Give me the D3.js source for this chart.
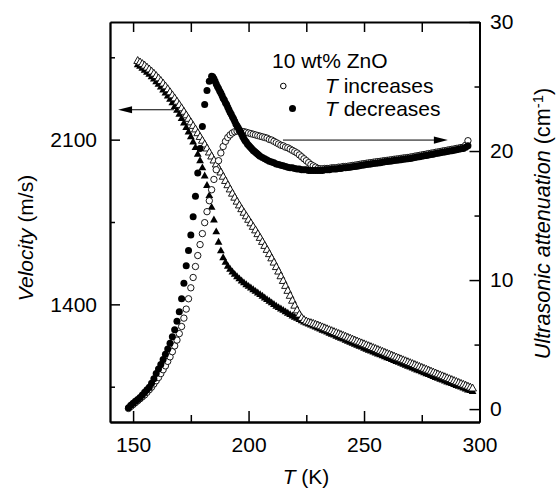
<!DOCTYPE html>
<html><head><meta charset="utf-8">
<script src="https://cdn.jsdelivr.net/npm/d3@7"></script>
<style>
body{margin:0;background:#fff}
svg{display:block;background:#fff}
text{font-family:"Liberation Sans",Arial,Helvetica,sans-serif;fill:#000}
</style>
</head><body>
<svg id="chart" width="556" height="492"></svg>
<script>
// ---- data ----
// attenuation, T increases: temperatures (K) and values (cm^-1), open circles
const tempAInc = [148,149,150,151,152,153,154,155,156,157,
158,159,160,161,162,163,164,165,166,167,
168,169,170,171,172,173,174,175,176,177,
178,179,180,181,182,183,184,185,186,187,
188,189,190,191,192,193,194,195,196,197,
198,199,200,201,202,203,204,205,206,207,
208,209,210,211,212,213,214,215,216,217,
218,219,220,221,222,223,224,225,226,227,
228,229,230,231,232,233,234,235,236,237,
238,239,240,241,242,243,244,245,246,247,
248,249,250,251,252,253,254,255,256,257,
258,259,260,261,262,263,264,265,266,267,
268,269,270,271,272,273,274,275,276,277,
278,279,280,281,282,283,284,285,286,287,
288,289,290,291,292,293,294,295];
const attInc = [0.05,0.2,0.35,0.5,0.65,0.8,0.95,1.1,1.3,1.5,
1.7,1.95,2.2,2.45,2.75,3.05,3.35,3.7,4.05,4.45,
4.9,5.35,5.85,6.4,7.05,7.75,8.55,9.4,10.2,11.05,
11.9,12.75,13.6,14.45,15.3,16.15,17.0,17.8,18.55,19.25,
19.85,20.35,20.75,21.05,21.25,21.4,21.5,21.55,21.55,21.5,
21.5,21.45,21.4,21.35,21.3,21.25,21.2,21.15,21.1,21.05,
21.0,20.9,20.85,20.75,20.65,20.55,20.45,20.4,20.3,20.25,
20.15,20.05,19.95,19.85,19.7,19.55,19.4,19.25,19.1,18.95,
18.85,18.75,18.65,18.62,18.62,18.65,18.65,18.65,18.7,18.7,
18.7,18.75,18.75,18.8,18.8,18.82,18.85,18.88,18.9,18.93,
18.96,19.0,19.02,19.05,19.08,19.1,19.13,19.16,19.18,19.2,
19.23,19.26,19.28,19.3,19.33,19.36,19.38,19.4,19.43,19.46,
19.48,19.5,19.53,19.56,19.6,19.63,19.66,19.7,19.73,19.76,
19.8,19.83,19.86,19.9,19.93,19.96,20.0,20.03,20.06,20.1,
20.13,20.16,20.2,20.23,20.27,20.3,20.45,20.8];

// attenuation, T decreases: temperatures (K) and values (cm^-1), filled circles
const tempADec = [148,149,150,151,152,153,154,155,156,157,
158,159,160,161,162,163,164,165,166,167,
168,169,170,171,172,173,174,175,176,177,
178,179,180,181,182,183,184,184.5,185,185.5,
186,186.5,187,187.5,188,188.5,189,189.5,190,190.5,
191,191.5,192,192.5,193,193.5,194,194.5,195,195.5,
196,196.5,197,197.5,198,198.5,199,199.5,200,200.5,
201,201.5,202,202.5,203,203.5,204,204.5,205,206,
207,208,209,210,211,212,213,214,215,216,
217,218,219,220,221,222,223,224,225,226,
227,228,229,230,231,232,233,234,235,236,
237,238,239,240,241,242,243,244,245,246,
247,248,249,250,251,252,253,254,255,256,
257,258,259,260,261,262,263,264,265,266,
267,268,269,270,271,272,273,274,275,276,
277,278,279,280,281,282,283,284,285,286,
287,288,289,290,291,292,293,294,295];
const attDec = [0.1,0.3,0.45,0.6,0.75,0.9,1.1,1.3,1.5,1.7,
2.0,2.35,2.75,3.1,3.45,3.85,4.25,4.65,5.1,5.6,
6.15,6.8,7.55,8.55,9.75,11.1,12.3,13.5,14.9,16.5,
18.3,20.2,21.9,23.6,24.7,25.4,25.8,25.75,25.6,25.4,
25.2,25.0,24.85,24.65,24.5,24.3,24.1,23.95,23.75,23.6,
23.4,23.2,23.0,22.85,22.65,22.5,22.3,22.1,21.95,21.8,
21.65,21.5,21.3,21.1,20.95,20.8,20.7,20.55,20.45,20.35,
20.25,20.15,20.05,19.98,19.9,19.82,19.75,19.68,19.6,19.5,
19.4,19.3,19.2,19.15,19.1,19.0,18.95,18.9,18.85,18.8,
18.75,18.7,18.7,18.65,18.6,18.6,18.55,18.55,18.55,18.5,
18.5,18.5,18.5,18.5,18.5,18.5,18.55,18.55,18.55,18.6,
18.6,18.6,18.65,18.65,18.7,18.7,18.72,18.75,18.78,18.8,
18.83,18.86,18.9,18.92,18.95,18.98,19.0,19.03,19.06,19.08,
19.1,19.13,19.16,19.18,19.2,19.23,19.26,19.28,19.3,19.33,
19.36,19.38,19.4,19.43,19.46,19.5,19.53,19.56,19.6,19.63,
19.66,19.7,19.73,19.76,19.8,19.83,19.86,19.9,19.93,19.96,
20.0,20.03,20.06,20.1,20.13,20.17,20.2,20.3,20.4];

// velocity: temperatures (K), shared by both velocity series
const tempV = [152,153,154,155,156,157,158,159,160,161,
162,163,164,165,166,167,168,169,170,171,
172,173,174,175,176,177,178,179,180,181,
182,183,184,185,186,187,188,189,190,191,
192,193,194,195,196,197,198,199,200,201,
202,203,204,205,206,207,208,209,210,211,
212,213,214,215,216,217,218,219,220,221,
222,223,224,225,226,227,228,229,230,231,
232,233,234,235,236,237,238,239,240,241,
242,243,244,245,246,247,248,249,250,251,
252,253,254,255,256,257,258,259,260,261,
262,263,264,265,266,267,268,269,270,271,
272,273,274,275,276,277,278,279,280,281,
282,283,284,285,286,287,288,289,290,291,
292,293,294,295,296,297];
// T increases (open triangles), m/s
const velInc = [2434,2428,2421,2414,2406,2398,2389,2380,2370,2360,
2349,2338,2326,2314,2301,2288,2275,2261,2247,2233,
2218,2203,2188,2173,2158,2143,2127,2111,2095,2079,
2062,2045,2028,2011,1994,1977,1960,1942,1924,1906,
1888,1870,1853,1836,1820,1804,1789,1774,1759,1744,
1729,1714,1698,1682,1665,1648,1631,1613,1595,1577,
1558,1539,1519,1499,1478,1457,1436,1415,1394,1374,
1356,1342,1333,1327,1323,1320,1317,1313,1310,1306,
1302,1298,1294,1290,1286,1282,1278,1274,1270,1266,
1262,1258,1254,1250,1246,1242,1238,1234,1230,1226,
1222,1218,1214,1210,1206,1202,1198,1194,1190,1186,
1182,1178,1174,1170,1166,1162,1158,1154,1150,1146,
1142,1138,1134,1130,1126,1122,1118,1114,1110,1106,
1102,1098,1094,1090,1086,1082,1078,1074,1070,1066,
1062,1058,1054,1050,1046,1042];
// T decreases (filled triangles), m/s
const velDec = [2418,2411,2403,2395,2386,2377,2367,2357,2346,2335,
2323,2311,2298,2285,2271,2256,2240,2224,2207,2189,
2170,2151,2132,2112,2090,2066,2038,2010,1980,1945,
1905,1862,1812,1758,1708,1664,1627,1598,1578,1562,
1549,1537,1527,1517,1508,1499,1491,1483,1476,1469,
1462,1455,1448,1441,1434,1427,1420,1413,1406,1399,
1392,1386,1380,1374,1368,1362,1356,1350,1345,1340,
1335,1330,1325,1320,1316,1312,1308,1303,1299,1295,
1290,1286,1282,1277,1273,1269,1264,1260,1256,1252,
1247,1243,1239,1234,1230,1226,1222,1218,1213,1209,
1205,1201,1197,1193,1189,1185,1181,1177,1173,1169,
1165,1161,1157,1153,1149,1145,1141,1137,1133,1129,
1125,1121,1117,1113,1109,1105,1101,1097,1093,1089,
1085,1081,1078,1074,1070,1066,1063,1059,1055,1051,
1048,1044,1040,1036,1033,1029];

// tick labels / texts
const xMajorTicks = [150,200,250,300];
const xMinorTicks = [175,225,275];
const yLeftMajorTicks = [1400,2100];
const yLeftMinorTicks = [1050,1750,2450];
const yRightMajorTicks = [0,10,20,30];
const yRightMinorTicks = [5,15,25];
const legendTitle = "10 wt% ZnO";
const legendLabels = ["increases","decreases"];

// ---- drawing ----
const svg = d3.select('#chart');
const x = d3.scaleLinear().domain([140,300]).range([110,479.5]);
const yL = d3.scaleLinear().domain([900,2600]).range([422,22]);
const yR = d3.scaleLinear().domain([-1,30]).range([422,22]);
const FS = 21;

function styleAxis(g){
  g.attr('font-family',null).attr('font-size',null);
  g.select('.domain').attr('stroke','#000').attr('stroke-width',1.8);
  g.selectAll('.tick line').attr('stroke','#000').attr('stroke-width',1.5);
  g.selectAll('.tick text').style('font-size',FS+'px').attr('fill','#000');
}
// bottom
svg.append('g').attr('transform','translate(0,422)')
  .call(d3.axisBottom(x).tickValues(xMajorTicks).tickSize(-11).tickSizeOuter(0).tickPadding(15).tickFormat(d3.format('d'))).call(styleAxis);
svg.append('g').attr('transform','translate(0,422)')
  .call(d3.axisBottom(x).tickValues(xMinorTicks).tickSize(-7).tickSizeOuter(0).tickFormat('')).call(styleAxis);
// top
svg.append('g').attr('transform','translate(0,22)')
  .call(d3.axisTop(x).tickValues(xMajorTicks.concat(xMinorTicks)).tickSize(-10).tickSizeOuter(0).tickFormat('')).call(styleAxis);
// left
svg.append('g').attr('transform','translate(110,0)')
  .call(d3.axisLeft(yL).tickValues(yLeftMajorTicks).tickSize(-10).tickSizeOuter(0).tickPadding(13).tickFormat(d3.format('d'))).call(styleAxis);
svg.append('g').attr('transform','translate(110,0)')
  .call(d3.axisLeft(yL).tickValues(yLeftMinorTicks).tickSize(-5).tickSizeOuter(0).tickFormat('')).call(styleAxis);
// right
svg.append('g').attr('transform','translate(479.5,0)')
  .call(d3.axisRight(yR).tickValues(yRightMajorTicks).tickSize(-10).tickSizeOuter(0).tickPadding(10.5).tickFormat(d3.format('d'))).call(styleAxis);
svg.append('g').attr('transform','translate(479.5,0)')
  .call(d3.axisRight(yR).tickValues(yRightMinorTicks).tickSize(-5).tickSizeOuter(0).tickFormat('')).call(styleAxis);

// markers
const tri = 'M0,-4.5L3.9,2.4L-3.9,2.4Z';
const plot = svg.append('g');
const vDec = tempV.map((t,i)=>({t,v:velDec[i]}));
const vInc = tempV.map((t,i)=>({t,v:velInc[i]}));
const aInc = tempAInc.map((t,i)=>({t,v:attInc[i]}));
const aDec = tempADec.map((t,i)=>({t,v:attDec[i]}));

plot.append('g').selectAll('path').data(vDec).join('path')
  .attr('d',tri).attr('transform',d=>`translate(${x(d.t)},${yL(d.v)})`)
  .attr('fill','#000');
plot.append('g').selectAll('path').data(vInc).join('path')
  .attr('d',tri).attr('transform',d=>`translate(${x(d.t)},${yL(d.v)})`)
  .attr('fill','#fff').attr('stroke','#000').attr('stroke-width',0.9);
plot.append('g').selectAll('circle').data(aInc).join('circle')
  .attr('cx',d=>x(d.t)).attr('cy',d=>yR(d.v)).attr('r',3.2)
  .attr('fill','#fff').attr('stroke','#000').attr('stroke-width',0.9);
plot.append('g').selectAll('circle').data(aDec).join('circle')
  .attr('cx',d=>x(d.t)).attr('cy',d=>yR(d.v)).attr('r',3.5)
  .attr('fill','#000');

// arrows (placed in data coordinates)
function arrow(x1,x2,y){
  const dir = x2 < x1 ? 1 : -1;
  svg.append('line').attr('x1',x1).attr('x2',x2+dir*12).attr('y1',y).attr('y2',y)
    .attr('stroke','#000').attr('stroke-width',1);
  svg.append('path').attr('d',`M${x2},${y}L${x2+dir*14},${y-3.6}L${x2+dir*14},${y+3.6}Z`).attr('fill','#000');
}
arrow(x(167.7), x(143.5), yL(2227));
arrow(x(214.9), x(286.3), yR(20.85));

// legend
svg.append('text').attr('x',272).attr('y',68).style('font-size',FS+'px').text(legendTitle);
svg.append('circle').attr('cx',283.3).attr('cy',86).attr('r',2.8).attr('fill','#fff').attr('stroke','#000').attr('stroke-width',1);
svg.append('circle').attr('cx',292.5).attr('cy',108.5).attr('r',3.5).attr('fill','#000');
[[93.3,legendLabels[0]],[115.5,legendLabels[1]]].forEach(([yy,lab])=>{
  const t = svg.append('text').attr('x',325).attr('y',yy).style('font-size',FS+'px');
  t.append('tspan').style('font-style','italic').text('T');
  t.append('tspan').text(' '+lab);
});

// axis titles
const xt = svg.append('text').attr('x',306).attr('y',484).attr('text-anchor','middle').style('font-size',FS+'px');
xt.append('tspan').style('font-style','italic').text('T');
xt.append('tspan').text(' (K)');

const ylt = svg.append('text').attr('transform','translate(33.3,238) rotate(-90)').attr('text-anchor','middle').style('font-size',FS+'px');
ylt.append('tspan').style('font-style','italic').text('Velocity');
ylt.append('tspan').text(' (m/s)');

const yrt = svg.append('text').attr('transform','translate(550,223.5) rotate(-90)').attr('text-anchor','middle').style('font-size','21.6px');
yrt.append('tspan').style('font-style','italic').text('Ultrasonic attenuation');
yrt.append('tspan').text(' (cm');
yrt.append('tspan').attr('dy',-7).style('font-size','15px').text('-1');
yrt.append('tspan').attr('dy',7).text(')');
</script>
</body></html>
